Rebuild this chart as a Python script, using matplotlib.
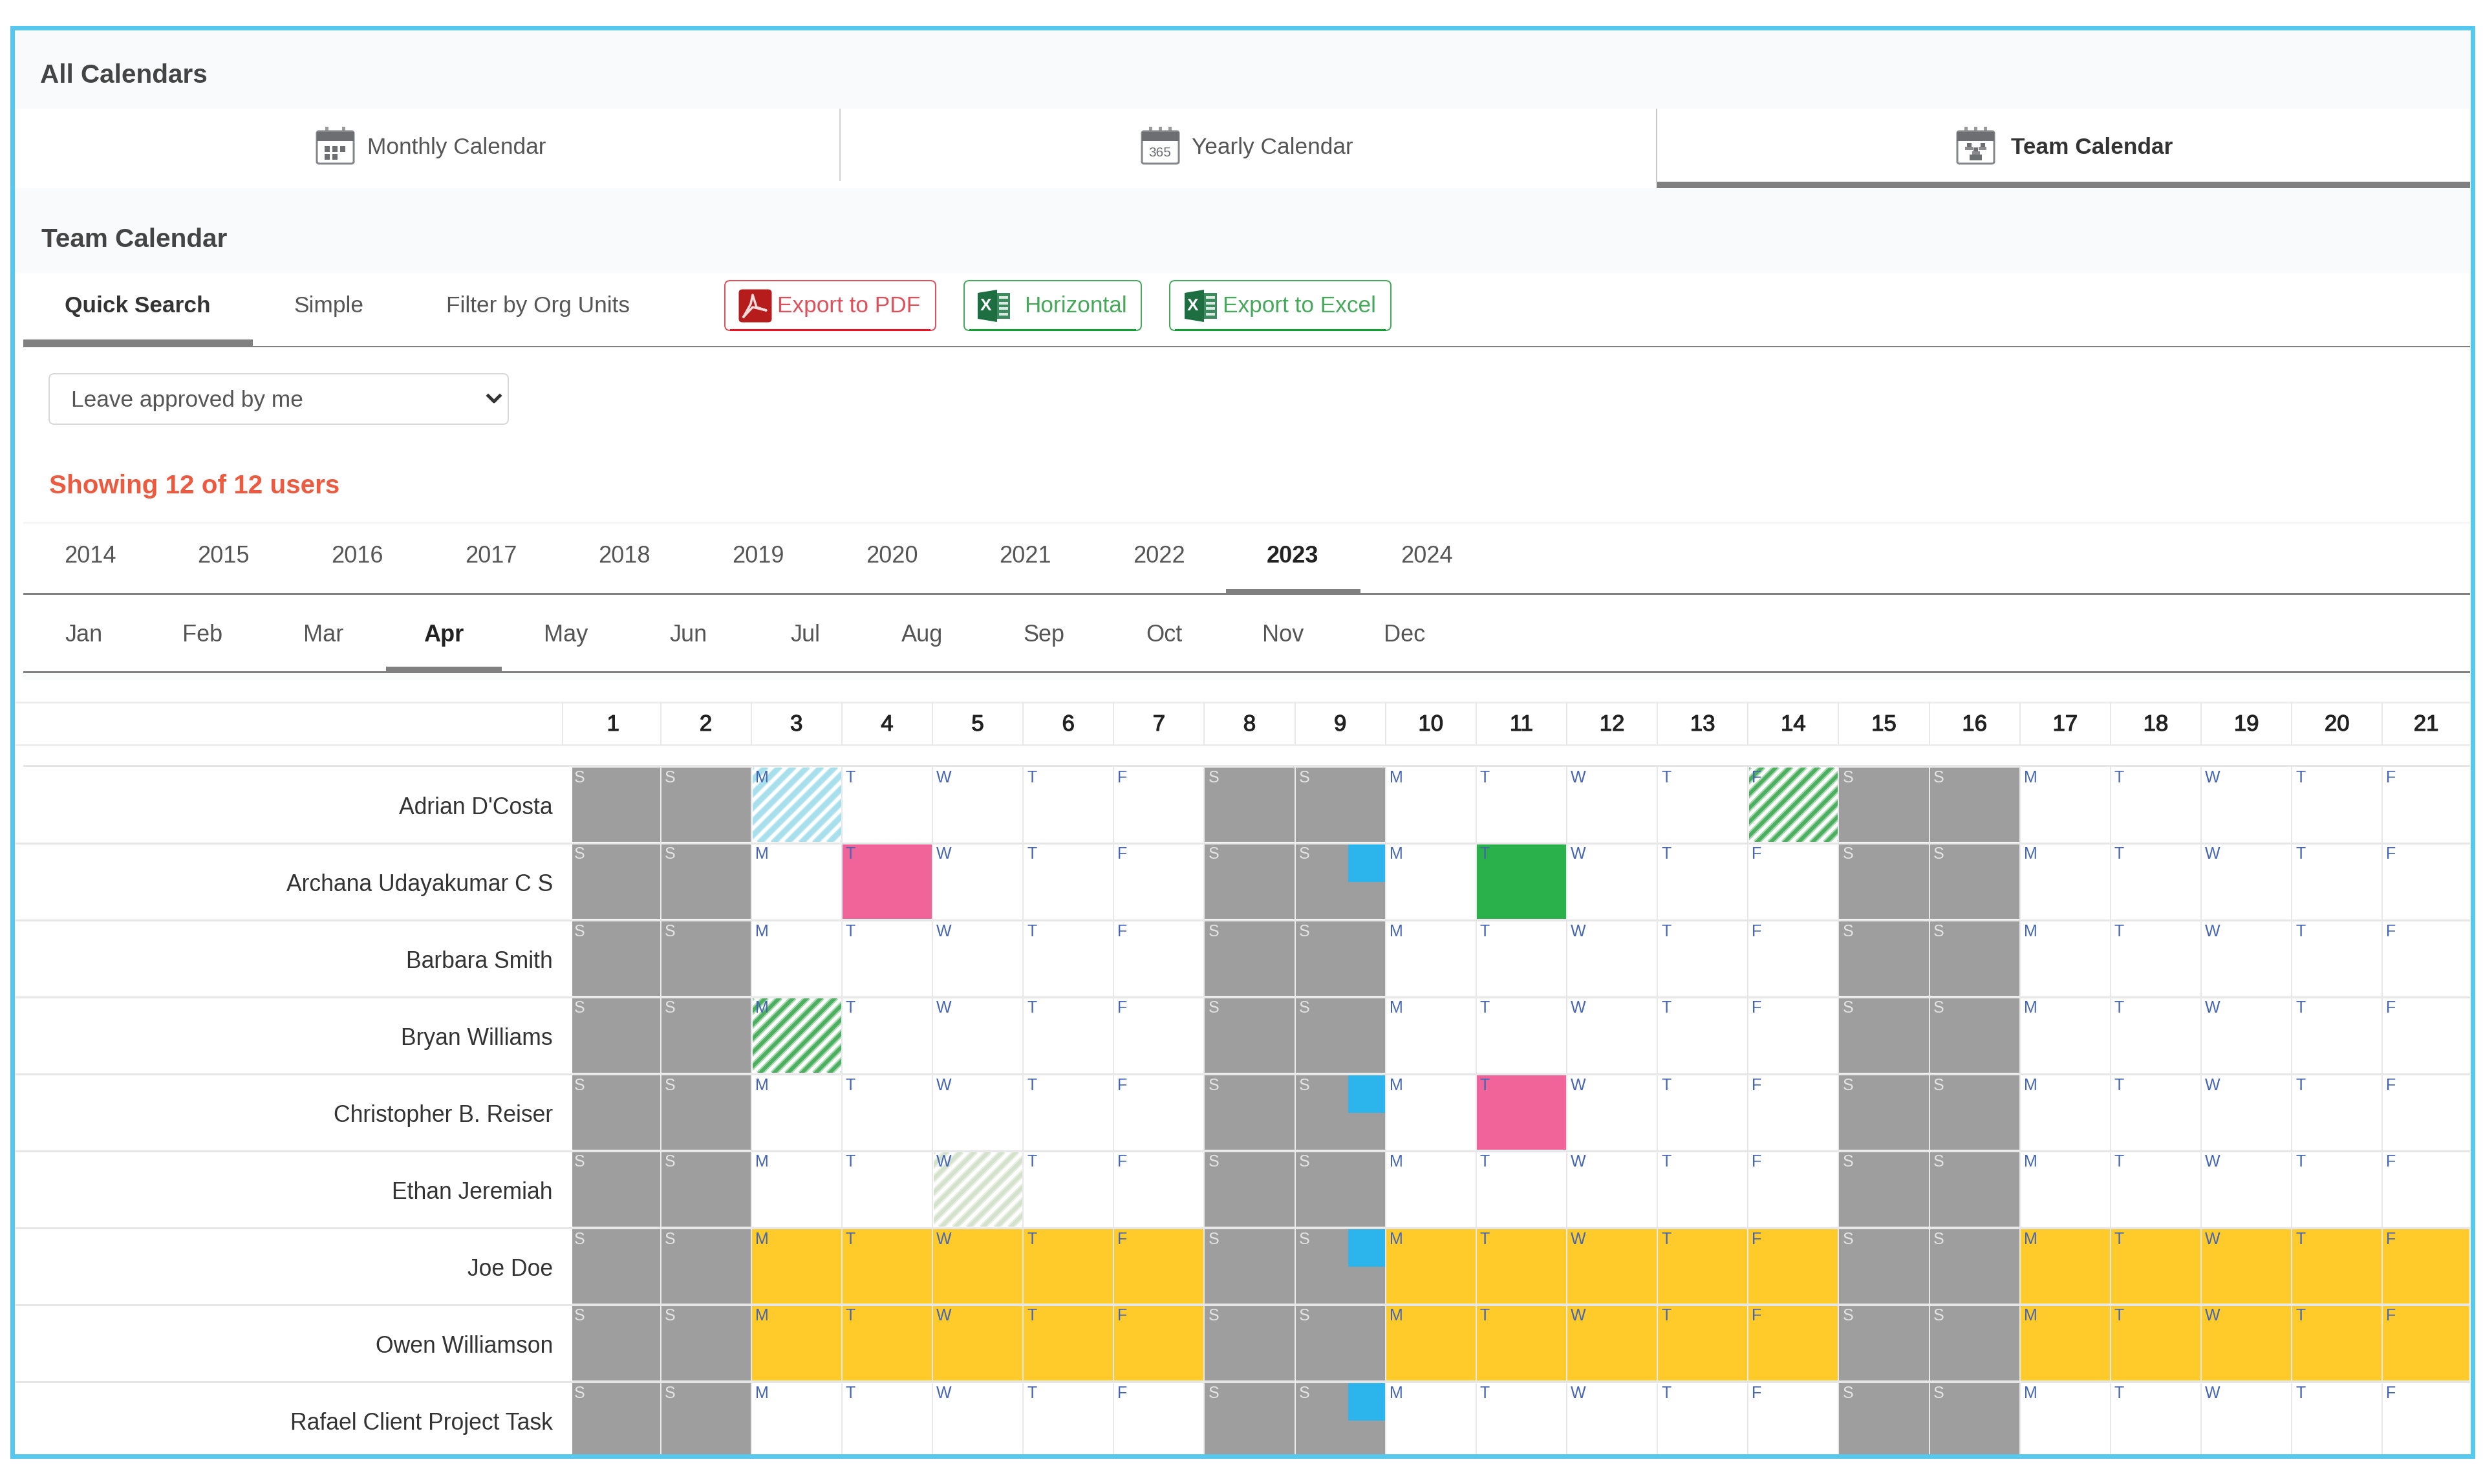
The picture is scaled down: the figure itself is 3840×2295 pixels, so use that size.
import numpy as np
import matplotlib
matplotlib.use("Agg")
import matplotlib.pyplot as plt
import matplotlib.patheffects as pe
from matplotlib.patches import Rectangle, FancyBboxPatch, Polygon

plt.rcParams['font.family'] = ['Liberation Sans', 'DejaVu Sans']

# DATA
names = ["Adrian D'Costa", "Archana Udayakumar C S", "Barbara Smith", "Bryan Williams",
         "Christopher B. Reiser", "Ethan Jeremiah", "Joe Doe", "Owen Williamson",
         "Rafael Client Project Task"]
days = list(range(1, 22))
day_letters = ["S", "S", "M", "T", "W", "T", "F", "S", "S", "M", "T", "W", "T", "F", "S", "S", "M", "T", "W", "T", "F"]
years = ["2014", "2015", "2016", "2017", "2018", "2019", "2020", "2021", "2022", "2023", "2024"]
months = ["Jan", "Feb", "Mar", "Apr", "May", "Jun", "Jul", "Aug", "Sep", "Oct", "Nov", "Dec"]
active_year = "2023"
active_month = "Apr"
# (row, day) cells
pink_cells = [(1, 4), (4, 11)]
green_cells = [(1, 11)]
cyan_hatch_cells = [(0, 3)]
green_hatch_cells = [(3, 3), (0, 14)]
pale_hatch_cells = [(5, 5)]
full_leave_rows = [6, 7]
blue_flag_rows = [1, 4, 6, 8]
blue_flag_day = 9

# colours
BORDER = '#56c8ee'
PANEL = '#f9fafb'
TAB_GREY = '#808080'
WEEKEND = '#9e9e9e'
PINK = '#f1649a'
GREEN = '#2bb14c'
YELLOW = '#ffcb2b'
BLUE = '#2cb5ec'
LETTER = '#4464b4'
GRID = '#e8e8ec'

# page layout is in image pixels
W, H = 3840, 2295
DPI = 200
fig = plt.figure(figsize=(W / DPI, H / DPI), dpi=DPI, facecolor='white')
ax = fig.add_axes([0, 0, 1, 1])
ax.set_xlim(0, W)
ax.set_ylim(H, 0)
ax.axis('off')


def lw(px):
    return px * 72 / DPI


def box(x0, y0, x1, y1, color, z=1, **kw):
    r = Rectangle((x0, y0), x1 - x0, y1 - y0, facecolor=color, edgecolor='none', zorder=z, **kw)
    ax.add_patch(r)
    return r


def rounded(x0, y0, x1, y1, fc, ec, px=2, rad=8, z=2):
    p = FancyBboxPatch((x0 + rad, y0 + rad), x1 - x0 - 2 * rad, y1 - y0 - 2 * rad,
                       boxstyle=f"round,pad={rad},rounding_size={rad}",
                       facecolor=fc, edgecolor=ec, linewidth=lw(px), zorder=z)
    ax.add_patch(p)
    return p


def label(x, y, s, size=12.7, color='#555555', weight='normal', ha='left', z=6):
    return ax.text(x, y, s, fontsize=size, color=color, fontweight=weight, ha=ha, va='center_baseline', zorder=z)


def calendar_icon(x0, y0, kind):
    # 59 x 59 px grey calendar glyph
    dark = '#6d6e71'
    rings = [16, 42] if kind == 'month' else [14, 29, 44]
    for k in rings:
        box(x0 + k - 2.5, y0, x0 + k + 2.5, y0 + 13, '#9a9a9c', z=3)
    rounded(x0 + 1, y0 + 7, x0 + 58, y0 + 57, 'white', '#85868a', px=3, rad=3, z=3)
    box(x0 + 1, y0 + 8, x0 + 58, y0 + 22, dark, z=4)
    if kind == 'month':
        for cx, cy in [(13, 30), (25, 30), (37, 30), (13, 42), (25, 42)]:
            box(x0 + cx, y0 + cy, x0 + cx + 8, y0 + cy + 9, dark, z=4)
    elif kind == 'year':
        ax.text(x0 + 29, y0 + 40, "365", fontsize=7.5, color=dark, ha='center', va='center', zorder=5)
    else:
        for cx, cy in [(19, 28), (40, 28), (29.5, 35)]:
            box(x0 + cx - 3.5, y0 + cy - 3, x0 + cx + 3.5, y0 + cy + 3, dark, z=5)
            box(x0 + cx - 6, y0 + cy + 3, x0 + cx + 6, y0 + cy + 8, '#8a8a8c', z=5)
        box(x0 + 20, y0 + 43, x0 + 39, y0 + 52, dark, z=5)


def pdf_icon(x0, y0):
    rounded(x0, y0, x0 + 50, y0 + 50, '#b71c1c', '#b71c1c', px=1, rad=5, z=3)
    sx = [7, 21, 42, 27, 21, 18, 7]
    sy = [42, 27, 32, 27, 8, 22, 42]
    ax.plot([x0 + a for a in sx], [y0 + b for b in sy], color='#f4dcdc', lw=lw(3.5), zorder=4)


def excel_icon(x0, y0):
    box(x0 + 30, y0 + 5, x0 + 50, y0 + 45, '#3d8a60', z=3)
    for j in range(4):
        box(x0 + 33, y0 + 10 + j * 8.5, x0 + 47, y0 + 14 + j * 8.5, '#dcebe2', z=4)
    ax.add_patch(Polygon([(x0, y0 + 5), (x0 + 30, y0), (x0 + 30, y0 + 50), (x0, y0 + 45)],
                         closed=True, facecolor='#1d6f42', edgecolor='none', zorder=4))
    ax.text(x0 + 13, y0 + 25, "X", fontsize=9.5, color='white', fontweight='bold', ha='center', va='center', zorder=5)


def button(x0, x1, edge, bottom):
    rounded(x0, 434, x1, 511, 'white', edge, px=2)
    box(x0 + 8, 508.5, x1 - 8, 511.5, bottom, z=3)


# 1. PAGE PANELS
box(22, 46, 3820, 168, PANEL)
box(22, 291, 3820, 422, PANEL)
box(1298, 168, 1300, 280, '#d0d0d0')
box(2561, 168, 2563, 281, '#c8c8c8')
box(2562, 281, 3820, 291, TAB_GREY)

label(62, 113, "All Calendars", size=14.6, color='#444444', weight='bold')
label(64, 367, "Team Calendar", size=14.6, color='#444444', weight='bold')

calendar_icon(489, 196, 'month')
label(568, 225, "Monthly Calendar")
calendar_icon(1765, 196, 'year')
label(1843, 225, "Yearly Calendar")
calendar_icon(3026, 196, 'team')
label(3110, 225, "Team Calendar", color='#333333', weight='bold')

# 2. FILTER TABS AND BUTTONS
label(100, 470, "Quick Search", color='#333333', weight='bold')
label(454, 470, "Simple")
label(690, 470, "Filter by Org Units")
box(36, 525, 391, 537, TAB_GREY)
box(36, 535, 3820, 537, TAB_GREY)

button(1121, 1447, '#e0505a', '#f01020')
pdf_icon(1143, 448)
label(1202, 470, "Export to PDF", color='#e0505a')
button(1491, 1765, '#45a85a', '#10a030')
excel_icon(1512, 448)
label(1584, 470, "Horizontal", color='#45a85a')
button(1809, 2151, '#45a85a', '#10a030')
excel_icon(1832, 448)
label(1891, 470, "Export to Excel", color='#45a85a')

rounded(76, 578, 786, 656, 'white', '#d8d8d8', px=2)
label(110, 616, "Leave approved by me")
ax.plot([755, 764, 773], [612, 621, 612], color='#333333', lw=lw(5), zorder=6)

label(76, 748, "Showing 12 of 12 users", size=14.55, color='#ee5a3f', weight='bold')

# 3. YEAR AND MONTH PICKERS
box(36, 807, 3820, 810, '#f5f6f7')
year_step = 206.7
for i, y in enumerate(years):
    on = y == active_year
    label(139 + i * year_step, 856, y, size=13, ha='center', color='#222222' if on else '#555555',
          weight='bold' if on else 'normal')
box(1896, 911, 2104, 919, TAB_GREY)
box(36, 917, 3820, 920, TAB_GREY)

month_x = [130, 313, 500, 686, 875, 1065, 1245, 1426, 1614, 1800, 1984, 2172]
for xm, m in zip(month_x, months):
    on = m == active_month
    label(xm, 978, m, size=13, ha='center', color='#222222' if on else '#555555',
          weight='bold' if on else 'normal')
box(597, 1031, 776, 1040, TAB_GREY)
box(36, 1038, 3820, 1041, TAB_GREY)
box(36, 1041, 3820, 1052, '#fafbfb')

# 4. CALENDAR GRID
col_w = 140.15
col2_left = 1021.5
grid_right = 3820
grid_bottom = 2249
row_top = 1185
row_h = 119


def day_left(d):
    return 884 if d == 1 else col2_left + (d - 2) * col_w


def day_right(d):
    return min(col2_left + (d - 1) * col_w, grid_right)


def row_edges(r):
    return row_top + r * row_h, min(row_top + (r + 1) * row_h, grid_bottom)


def hatch_cell(r, d, soft, core, core_px):
    x0, x1 = day_left(d) + 2, day_right(d) - 1
    y0, y1 = row_edges(r)
    clip = box(x0, y0 + 2, x1, y1 - 2, 'white', z=2)
    period = 21.5
    h = y1 - y0
    for off in np.arange(-h, x1 - x0 + period, period):
        for color, px in [(soft, 10), (core, core_px)]:
            ln, = ax.plot([x0 + off, x0 + off + h], [y1, y0], color=color, lw=lw(px), zorder=2.5, solid_capstyle='butt')
            ln.set_clip_path(clip)


# header strip
box(24, 1085, 3820, 1088, '#eeeeee')
box(24, 1151, 3820, 1154, '#eeeeee')
box(869, 1086, 871, 1152, GRID)
for d in days:
    if d > 1:
        box(day_left(d) - 1, 1086, day_left(d) + 1, 1152, GRID)
    xl = 875 if d == 1 else day_left(d)
    t = label((xl + day_right(d)) / 2, 1117, str(d), size=12.5, color='#222222', ha='center')
    t.set_path_effects([pe.withStroke(linewidth=lw(1.2), foreground='#222222')])

# cells
full_leave_days = [d for d, c in zip(days, day_letters) if c != 'S']
for r, name in enumerate(names):
    y0, y1 = row_edges(r)
    label(855, y0 + row_h / 2 + 1, name, size=12.8, color='#333333', ha='right')
    for d, c in zip(days, day_letters):
        x0, x1 = day_left(d), day_right(d)
        if d > 1:
            box(x0 - 1, y0, x0 + 1, y1, GRID, z=1)
        fill = None
        if c == 'S':
            fill = WEEKEND
        elif (r, d) in pink_cells:
            fill = PINK
        elif (r, d) in green_cells:
            fill = GREEN
        elif r in full_leave_rows and d in full_leave_days:
            fill = YELLOW
        if fill:
            box(x0 + 1, y0 + 2, x1 - 1, y1 - 2 if y1 < grid_bottom else y1, fill, z=2)
        label(x0 + (4 if d == 1 else 6), y0 + 15, c, size=9, color='#e4e4e4' if c == 'S' else LETTER, z=5)
    if r in blue_flag_rows:
        xr = day_right(blue_flag_day) - 1
        box(xr - 57, y0 + 2, xr, y0 + 60, BLUE, z=3)
    if r < len(names) - 1:
        box(24, y1 - 1.5, grid_right, y1 + 1.5, '#e6e6e6', z=1)
box(36, row_top - 2, grid_right, row_top + 1, '#e6e6e6', z=1)

for r, d in cyan_hatch_cells:
    hatch_cell(r, d, '#c4eaf4', '#a8dfec', 7)
for r, d in green_hatch_cells:
    hatch_cell(r, d, '#a5d8ae', '#4cae5f', 5.5)
for r, d in pale_hatch_cells:
    hatch_cell(r, d, '#e6efe0', '#d4e1cd', 5.5)

# 5. OUTER FRAME
ax.add_patch(Rectangle((18.5, 42.5), 3805, 2209, facecolor='none', edgecolor=BORDER, linewidth=lw(7), zorder=10))

fig.savefig("out.png", dpi=DPI, facecolor='white')
